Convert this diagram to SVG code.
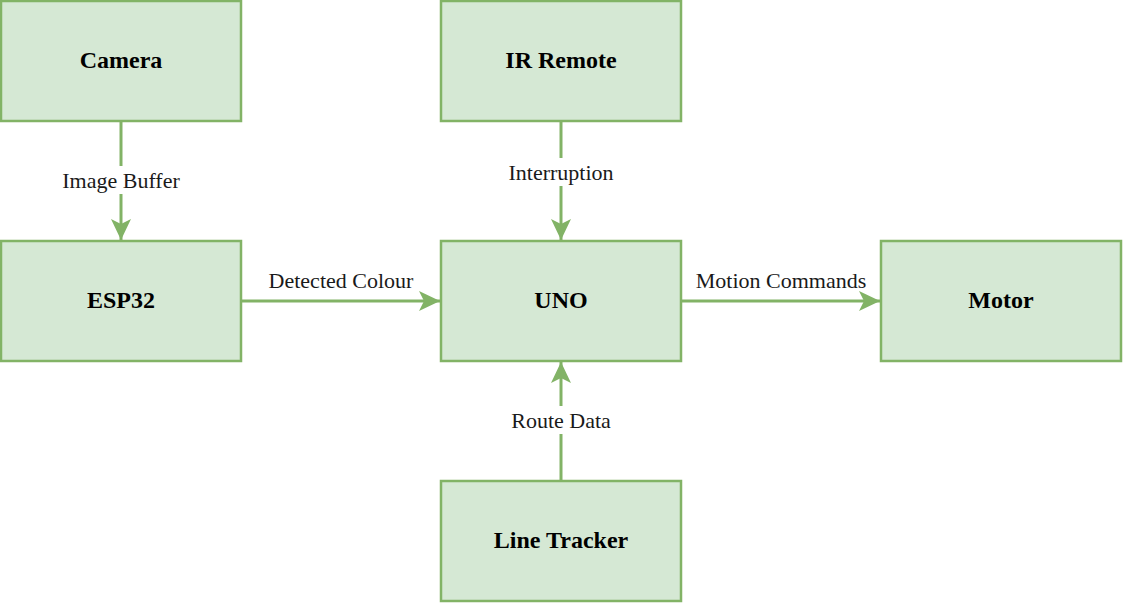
<svg xmlns="http://www.w3.org/2000/svg" width="1124" height="604" viewBox="0 0 1124 604">
<style>
.box{fill:#d5e8d4;stroke:#82b366;stroke-width:2.5}
.title{font-family:"Liberation Serif",serif;font-weight:bold;font-size:24px;fill:#000;text-anchor:middle;dominant-baseline:central}
.edge{stroke:#82b366;stroke-width:3;fill:none}
.lbl{font-family:"Liberation Serif",serif;font-size:22px;fill:#1a1a1a;text-anchor:middle;dominant-baseline:central}
.lblbg{fill:#fff}
</style>
<defs>
<marker id="arr" markerUnits="userSpaceOnUse" viewBox="-22 -12 24 24" refX="0" refY="0" markerWidth="24" markerHeight="24" orient="auto">
<path d="M0,0 L-21,-10 L-16,0 L-21,10 Z" fill="#82b366"/>
</marker>
</defs>
<rect width="1124" height="604" fill="#fff"/>
<g id="connectors">
<line class="edge" x1="121" y1="121" x2="121" y2="240" marker-end="url(#arr)"/>
<line class="edge" x1="561" y1="121" x2="561" y2="240" marker-end="url(#arr)"/>
<line class="edge" x1="241" y1="301" x2="440" y2="301" marker-end="url(#arr)"/>
<line class="edge" x1="681" y1="301" x2="880" y2="301" marker-end="url(#arr)"/>
<line class="edge" x1="561" y1="481" x2="561" y2="362" marker-end="url(#arr)"/>
<rect class="lblbg" x="58" y="166" width="126" height="28"/>
<text class="lbl" x="121" y="180">Image Buffer</text>
<rect class="lblbg" x="504" y="158" width="114" height="28"/>
<text class="lbl" x="561" y="172">Interruption</text>
<rect class="lblbg" x="507" y="406" width="108" height="28"/>
<text class="lbl" x="561" y="420">Route Data</text>
<text class="lbl" x="341" y="280">Detected Colour</text>
<text class="lbl" x="781" y="280">Motion Commands</text>
</g>
<g id="camera"><rect class="box" x="1" y="1" width="240" height="120"/><text class="title" x="121" y="60">Camera</text></g>
<g id="ir-remote"><rect class="box" x="441" y="1" width="240" height="120"/><text class="title" x="561" y="60">IR Remote</text></g>
<g id="esp32"><rect class="box" x="1" y="241" width="240" height="120"/><text class="title" x="121" y="300">ESP32</text></g>
<g id="uno"><rect class="box" x="441" y="241" width="240" height="120"/><text class="title" x="561" y="300">UNO</text></g>
<g id="motor"><rect class="box" x="881" y="241" width="240" height="120"/><text class="title" x="1001" y="300">Motor</text></g>
<g id="line-tracker"><rect class="box" x="441" y="481" width="240" height="120"/><text class="title" x="561" y="540">Line Tracker</text></g>
</svg>
